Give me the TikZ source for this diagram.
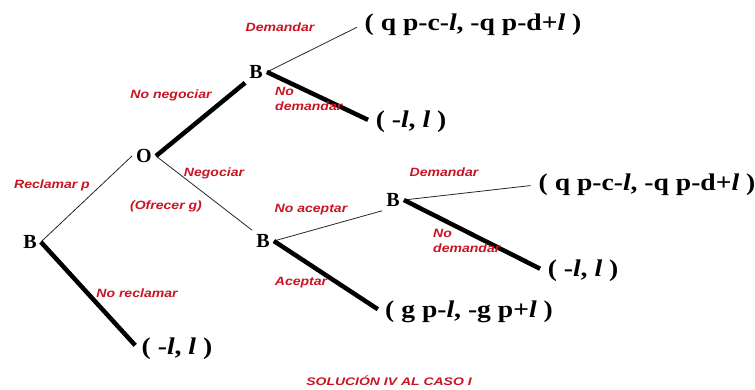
\documentclass[tikz,border=0pt]{standalone}
\usepackage{fontspec}
\setmainfont{Liberation Serif}
\newfontfamily\lblfont{Liberation Sans}
\usepackage{graphicx}
\definecolor{labred}{RGB}{200,20,35}
\newcommand\wlbl[1]{\scalebox{1.17}[1]{#1}}
\newcommand\wpay[1]{\scalebox{1.15}[1]{#1}}
\newcommand\twoline[2]{\begin{tabular}{@{}l@{}}#1\\#2\end{tabular}}
\begin{document}
\begin{tikzpicture}[x=1pt,y=-1pt,
  vtx/.style={font=\fontsize{20}{20}\selectfont\bfseries, inner sep=4pt},
  pay/.style={font=\fontsize{24}{24}\selectfont\bfseries, inner sep=3pt},
  lbl/.style={font=\lblfont\fontsize{12}{15}\selectfont\bfseries\itshape, text=labred, inner sep=0pt},
  thinedge/.style={line width=0.8pt, draw=black!85},
  thickedge/.style={line width=4.5pt},
  toleaf/.style={shorten >=5pt}
]
\useasboundingbox (0,0) rectangle (755,390);
% decision nodes
\node[vtx] (b1) at (30,242) {B};
\node[vtx] (o)  at (144,156) {O};
\node[vtx] (b2) at (256,72) {B};
\node[vtx] (b3) at (263,241) {B};
\node[vtx] (b4) at (393,200) {B};
% payoffs
\node[pay] (p1) at (177,349) {\wpay{( -\textit{l}, \textit{l} )}};
\node[pay] (p2) at (473,25)  {\wpay{( q p-c-\textit{l}, -q p-d+\textit{l} )}};
\node[pay] (p3) at (411,122) {\wpay{( -\textit{l}, \textit{l} )}};
\node[pay] (p4) at (469,312) {\wpay{( g p-\textit{l}, -g p+\textit{l} )}};
\node[pay] (p5) at (647,185) {\wpay{( q p-c-\textit{l}, -q p-d+\textit{l} )}};
\node[pay] (p6) at (583,271) {\wpay{( -\textit{l}, \textit{l} )}};
% edges
\draw[thinedge] (b1.east) -- (o.west);
\draw[thickedge,toleaf] (b1.east) -- (p1.west);
\draw[thickedge] (o.east) -- (b2.south west);
\draw[thinedge,toleaf] (b2.east) -- (p2.west);
\draw[thickedge,toleaf] (b2.east) -- (p3.west);
\draw[thinedge] (o.east) -- (b3.north west);
\draw[thinedge] (b3.east) -- (b4.south west);
\draw[thickedge,toleaf] (b3.east) -- (p4.west);
\draw[thinedge,toleaf] (b4.east) -- (p5.west);
\draw[thickedge,toleaf] (b4.east) -- (p6.west);
% labels
\node[lbl] (l1) at (280,27) {\wlbl{Demandar}};
\node[lbl] (l2) at (171,95) {\wlbl{No negociar}};
\node[lbl,anchor=west] (l3) at (275,100) {\wlbl{\twoline{No}{demandar}}};
\node[lbl] (l4) at (52,185) {\wlbl{Reclamar p}};
\node[lbl] (l5) at (214,173) {\wlbl{Negociar}};
\node[lbl] (l6) at (166,206) {\wlbl{(Ofrecer g)}};
\node[lbl] (l7) at (137,293) {\wlbl{No reclamar}};
\node[lbl] (l8) at (311,210) {\wlbl{No aceptar}};
\node[lbl] (l9) at (301,283) {\wlbl{Aceptar}};
\node[lbl] (l10) at (444,172) {\wlbl{Demandar}};
\node[lbl,anchor=west] (l11) at (433,242) {\wlbl{\twoline{No}{demandar}}};
\node[lbl,font=\lblfont\fontsize{11}{12}\selectfont\bfseries\itshape] (title) at (389,381) {\scalebox{1.27}[1]{SOLUCIÓN IV AL CASO I}};
\end{tikzpicture}
\end{document}
